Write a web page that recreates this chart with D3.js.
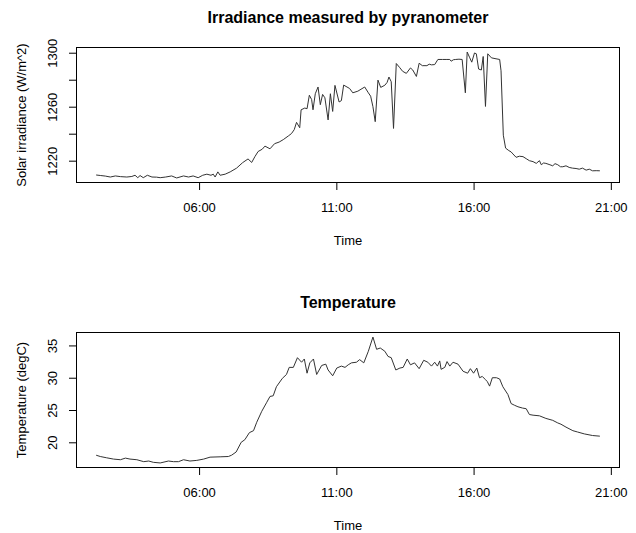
<!DOCTYPE html>
<html lang="en">
<head>
  <meta charset="UTF-8">
  <title>Irradiance and Temperature</title>
  <script src="https://d3js.org/d3.v7.min.js"></script>
  <style>
    body { margin: 0; background: #fff; }
    text { font-family: "Liberation Sans", Arial, Helvetica, sans-serif; fill: #000; }
    .tick text { font-size: 13px; }
    .tick line { stroke: #000; }
    .title { font-size: 16px; font-weight: bold; }
    .lab { font-size: 13px; }
  </style>
</head>
<body>
  <svg width="636" height="533"></svg>

  <script>
    // irradiance readings (W/m^2)
    const irrTimes = [
      "02:15","02:25","02:35","02:46","02:57","03:08","03:22","03:33","03:40","03:46",
      "03:51","03:58","04:07","04:17","04:27","04:35","04:47","05:00","05:11","05:26",
      "05:37","05:47","05:58","06:08","06:17","06:26","06:31","06:35","06:41","06:46",
      "06:57","07:08","07:22","07:35","07:47","07:55","08:02","08:09","08:18","08:24",
      "08:35","08:45","08:55","09:04","09:15","09:22","09:28","09:33","09:40","09:43",
      "09:51","09:56","10:01","10:06","10:09","10:14","10:20","10:25","10:30","10:35",
      "10:42","10:47","10:52","10:57","11:06","11:11","11:16","11:29","11:36","11:47",
      "12:02","12:10","12:15","12:20","12:25","12:31","12:37","12:46","12:51","12:55",
      "13:00","13:05","13:11","13:18","13:25","13:33","13:42","13:47","13:55","14:01",
      "14:08","14:18","14:23","14:28","14:35","14:42","14:52","15:00","15:08","15:11",
      "15:16","15:21","15:28","15:35","15:42","15:46","15:51","15:56","16:02","16:06",
      "16:11","16:17","16:21","16:26","16:31","16:39","16:49","16:57","17:00","17:05",
      "17:10","17:17","17:22","17:26","17:33","17:40","17:48","17:55","18:02","18:10",
      "18:17","18:24","18:28","18:33","18:38","18:45","18:53","18:58","19:04","19:10",
      "19:15","19:22","19:29","19:36","19:44","19:51","19:58","20:06","20:13","20:20",
      "20:28","20:36"
    ];
    const irrValues = [
      1209.4,1209.0,1208.6,1207.9,1208.7,1208.2,1207.9,1208.3,1209.2,1207.4,
      1209.0,1207.4,1209.2,1207.9,1207.8,1207.4,1207.9,1208.7,1207.2,1208.7,
      1207.9,1208.7,1207.4,1209.2,1210.0,1209.2,1210.0,1207.9,1211.7,1209.2,
      1210.0,1211.7,1214.5,1218.5,1221.3,1218.7,1223.0,1226.8,1228.5,1230.8,
      1228.8,1232.6,1233.8,1235.6,1238.3,1240.1,1243.0,1248.4,1244.4,1257.7,
      1259.0,1258.5,1268.5,1265.3,1257.7,1269.6,1274.6,1261.5,1269.1,1266.6,
      1250.2,1269.6,1256.5,1275.8,1263.5,1264.5,1276.0,1273.5,1270.3,1271.5,
      1274.6,1270.3,1267.8,1260.0,1248.9,1279.7,1274.3,1275.9,1278.0,1282.0,
      1278.5,1243.9,1292.0,1289.2,1286.2,1284.7,1288.7,1287.2,1282.4,1292.2,
      1290.4,1290.4,1291.5,1291.0,1291.2,1295.0,1295.0,1295.0,1295.0,1293.7,
      1294.8,1295.0,1295.2,1295.0,1270.3,1300.5,1296.7,1293.0,1299.8,1299.2,
      1287.9,1287.2,1297.2,1260.2,1299.2,1296.2,1295.5,1295.0,1286.6,1238.9,
      1229.3,1227.5,1226.5,1225.0,1222.5,1223.3,1223.0,1221.5,1220.0,1219.3,
      1218.0,1220.0,1217.0,1218.3,1218.0,1217.2,1216.2,1217.8,1217.0,1215.5,
      1215.5,1216.2,1215.0,1214.5,1214.2,1213.7,1214.5,1213.0,1213.7,1212.5,
      1212.6,1212.5
    ];

    // temperature readings (degC)
    const tempTimes = [
      "02:15","02:24","02:38","02:53","03:08","03:19","03:29","03:44","03:59","04:10",
      "04:20","04:35","04:53","05:04","05:15","05:26","05:40","05:55","06:10","06:24",
      "06:46","07:04","07:11","07:21","07:32","07:40","07:50","07:59","08:06","08:17",
      "08:28","08:35","08:42","08:49","09:02","09:11","09:17","09:26","09:35","09:44",
      "09:50","09:56","10:02","10:10","10:17","10:28","10:37","10:42","10:52","11:01",
      "11:11","11:19","11:26","11:33","11:44","11:51","12:00","12:10","12:20","12:28",
      "12:36","12:46","12:53","13:00","13:10","13:19","13:26","13:35","13:42","13:51",
      "14:01","14:11","14:20","14:28","14:35","14:41","14:46","14:49","14:57","15:02",
      "15:08","15:15","15:26","15:37","15:47","15:53","16:00","16:07","16:13","16:19",
      "16:26","16:30","16:35","16:41","16:50","16:57","17:04","17:15","17:22","17:29",
      "17:37","17:47","17:55","18:02","18:10","18:24","18:38","18:53","19:04","19:11",
      "19:22","19:37","19:47","20:02","20:20","20:36"
    ];
    const tempValues = [
      18.0,17.8,17.6,17.4,17.3,17.55,17.4,17.3,17.0,17.1,
      16.9,16.8,17.1,17.0,17.0,17.3,17.1,17.2,17.4,17.7,
      17.75,17.8,18.0,18.5,20.0,20.4,21.5,21.8,23.1,24.8,
      26.2,27.1,27.2,28.6,29.9,30.5,31.6,31.6,33.1,32.4,
      32.9,30.7,32.3,32.9,30.5,31.9,32.1,31.2,30.3,31.5,
      31.8,31.6,32.0,32.3,32.4,32.8,32.3,34.1,36.3,34.4,
      34.6,34.1,33.3,33.1,31.2,31.5,31.6,32.9,32.0,32.3,
      31.4,32.7,32.4,31.8,32.4,31.8,32.6,31.3,31.6,32.5,
      31.8,32.4,32.1,31.0,30.7,31.4,30.7,31.5,30.0,30.2,
      29.7,29.4,28.7,30.0,30.0,29.8,28.6,27.4,26.0,25.75,
      25.5,25.3,25.2,24.3,24.2,24.1,23.7,23.4,23.0,22.8,
      22.35,21.8,21.6,21.3,21.05,20.95
    ];

    const timeTicks = ["06:00", "11:00", "16:00", "21:00"];
    const irrTicks = [1220, 1240, 1260, 1280, 1300];
    const irrTickLabels = [1220, 1260, 1300];
    const tempTicks = [20, 25, 30, 35];

    const parse = d3.timeParse("%H:%M");
    const fmt = d3.timeFormat("%H:%M");
    const svg = d3.select("svg");

    const left = 76, right = 620, boxH = 136;

    // R style range: data extent padded by 4% each side
    function pad(ext) {
      const lo = +ext[0], hi = +ext[1];
      const d = (hi - lo) * 0.04;
      return [lo - d, hi + d];
    }

    function panel(opt) {
      const data = opt.times.map((t, i) => ({ t: parse(t), v: opt.values[i] }));
      const top = opt.top, bottom = top + boxH;

      const x = d3.scaleTime()
        .domain(pad(d3.extent(data, d => d.t)))
        .range([left, right]);
      const y = d3.scaleLinear()
        .domain(pad(d3.extent(data, d => d.v)))
        .range([bottom, top]);

      const g = svg.append("g");

      const xa = g.append("g")
        .attr("transform", `translate(0,${bottom})`)
        .call(d3.axisBottom(x).tickValues(timeTicks.map(s => parse(s))).tickFormat(fmt).tickSize(7));
      xa.select(".domain").remove();
      xa.selectAll("text").attr("y", 29).attr("dy", null);

      const ya = g.append("g")
        .attr("transform", `translate(${left},0)`)
        .call(d3.axisLeft(y).tickValues(opt.ticks).tickSize(7)
          .tickFormat(d => opt.labels.includes(d) ? d : ""));
      ya.select(".domain").remove();
      ya.selectAll("text")
        .attr("x", null).attr("dy", null)
        .attr("text-anchor", "middle")
        .attr("transform", "translate(-19,0) rotate(-90)");

      g.append("rect")
        .attr("x", left + 0.5).attr("y", top + 0.5)
        .attr("width", right - left - 1).attr("height", boxH - 1)
        .attr("fill", "none").attr("stroke", "#000");

      g.append("path")
        .datum(data)
        .attr("fill", "none")
        .attr("stroke", "#333")
        .attr("stroke-width", 1)
        .attr("d", d3.line().x(d => x(d.t)).y(d => y(d.v)));

      g.append("text").attr("class", "title")
        .attr("x", (left + right) / 2).attr("y", top - 24)
        .attr("text-anchor", "middle").text(opt.title);

      g.append("text").attr("class", "lab")
        .attr("x", (left + right) / 2).attr("y", bottom + 62)
        .attr("text-anchor", "middle").text("Time");

      g.append("text").attr("class", "lab")
        .attr("transform", `translate(26,${(top + bottom) / 2}) rotate(-90)`)
        .attr("text-anchor", "middle").text(opt.ylab);
    }

    panel({
      times: irrTimes, values: irrValues, top: 47,
      ticks: irrTicks, labels: irrTickLabels,
      title: "Irradiance measured by pyranometer",
      ylab: "Solar irradiance (W/m^2)"
    });

    panel({
      times: tempTimes, values: tempValues, top: 332,
      ticks: tempTicks, labels: tempTicks,
      title: "Temperature",
      ylab: "Temperature (degC)"
    });
  </script>
</body>
</html>
